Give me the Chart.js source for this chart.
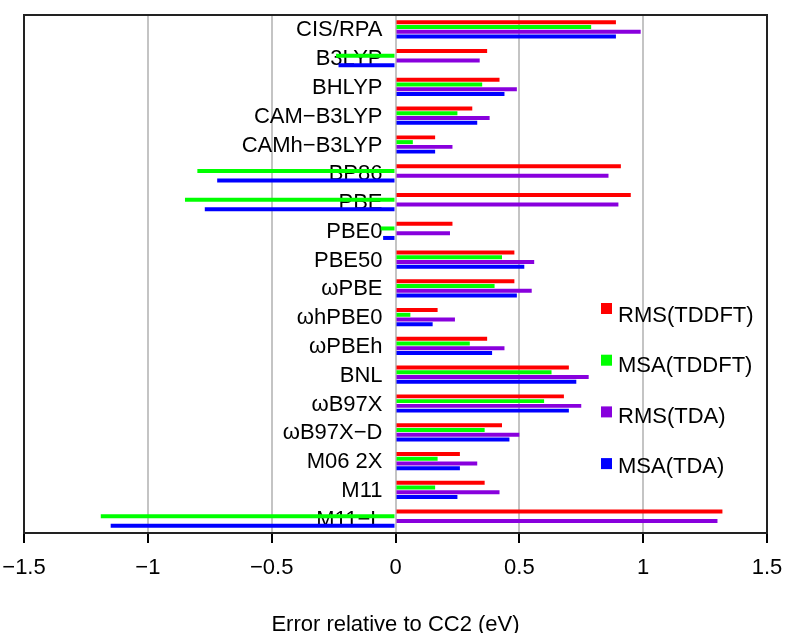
<!DOCTYPE html>
<html>
<head>
<meta charset="utf-8">
<script src="https://cdn.jsdelivr.net/npm/chart.js@4.4.1/dist/chart.umd.min.js"></script>
<style>
  html, body { margin: 0; padding: 0; background: #fff; }
  canvas { display: block; }
</style>
</head>
<body>
<canvas id="chart" width="791" height="633"></canvas>
<script>
const categories = ['CIS/RPA', 'B3LYP', 'BHLYP', 'CAM−B3LYP', 'CAMh−B3LYP', 'BP86', 'PBE', 'PBE0', 'PBE50',
  'ωPBE', 'ωhPBE0', 'ωPBEh', 'BNL', 'ωB97X', 'ωB97X−D', 'M06 2X', 'M11', 'M11−L'];

const rmsTddft = [0.89, 0.37, 0.42, 0.31, 0.16, 0.91, 0.95, 0.23, 0.48, 0.48, 0.17, 0.37, 0.70, 0.68, 0.43, 0.26, 0.36, 1.32];
const msaTddft = [0.79, -0.24, 0.35, 0.25, 0.07, -0.80, -0.85, -0.06, 0.43, 0.40, 0.06, 0.30, 0.63, 0.60, 0.36, 0.17, 0.16, -1.19];
const rmsTda = [0.99, 0.34, 0.49, 0.38, 0.23, 0.86, 0.90, 0.22, 0.56, 0.55, 0.24, 0.44, 0.78, 0.75, 0.50, 0.33, 0.42, 1.30];
const msaTda = [0.89, -0.23, 0.44, 0.33, 0.16, -0.72, -0.77, -0.05, 0.52, 0.49, 0.15, 0.39, 0.73, 0.70, 0.46, 0.26, 0.25, -1.15];

const xTicks = [-1.5, -1, -0.5, 0, 0.5, 1, 1.5];

const FONT = '"Liberation Sans", Arial, sans-serif';

function fmt(v) {
  return v < 0 ? '\u2212' + Math.abs(v) : String(v);
}

// category names inside the plot, legend and frame
const overlay = {
  id: 'overlay',
  beforeDatasetsDraw(chart) {
    const { ctx, scales: { x, y } } = chart;
    ctx.save();
    ctx.font = '22px ' + FONT;
    ctx.fillStyle = '#000';
    ctx.textAlign = 'right';
    ctx.textBaseline = 'middle';
    const lx = x.getPixelForValue(0) - 13;
    categories.forEach((c, i) => ctx.fillText(c, lx, y.getPixelForValue(i) + 1));
    ctx.restore();
  },
  afterDatasetsDraw(chart) {
    const { ctx, chartArea: a } = chart;
    ctx.save();
    ctx.strokeStyle = '#222';
    ctx.lineWidth = 2;
    ctx.strokeRect(a.left, a.top, a.right - a.left, a.bottom - a.top);

    ctx.font = '22px ' + FONT;
    ctx.textAlign = 'left';
    ctx.textBaseline = 'middle';
    chart.data.datasets.forEach((ds, i) => {
      ctx.fillStyle = ds.backgroundColor;
      ctx.fillRect(601, 303 + i * 51.7, 11, 11);
      ctx.fillStyle = '#000';
      ctx.fillText(ds.label, 618, 316 + i * 50.3);
    });
    ctx.restore();
  }
};

new Chart(document.getElementById('chart'), {
  type: 'bar',
  data: {
    labels: categories,
    datasets: [
      { label: 'RMS(TDDFT)', data: rmsTddft, backgroundColor: '#ff0000' },
      { label: 'MSA(TDDFT)', data: msaTddft, backgroundColor: '#00ff00' },
      { label: 'RMS(TDA)', data: rmsTda, backgroundColor: '#8800dd' },
      { label: 'MSA(TDA)', data: msaTda, backgroundColor: '#0000ff' }
    ]
  },
  options: {
    indexAxis: 'y',
    responsive: false,
    animation: false,
    datasets: { bar: { barPercentage: 0.84, categoryPercentage: 0.66 } },
    layout: { padding: { left: 24, right: 24, top: 15, bottom: 0 } },
    plugins: { legend: { display: false }, tooltip: { enabled: false } },
    scales: {
      y: { display: false },
      x: {
        min: -1.5,
        max: 1.5,
        afterBuildTicks: s => { s.ticks = xTicks.map(v => ({ value: v })); },
        afterFit: s => {
          s.height = 100;
          s.paddingLeft = 0;
          s.paddingRight = 0;
        },
        grid: {
          color: c => (c.tick && Math.abs(c.tick.value) < 1.4) ? '#c4c4c4' : 'rgba(0,0,0,0)',
          lineWidth: 2,
          tickColor: '#000',
          tickLength: 10,
          tickWidth: 2
        },
        border: { display: true, color: '#000', width: 2 },
        ticks: {
          color: '#000',
          padding: 12,
          maxRotation: 0,
          font: { family: FONT, size: 22 },
          callback: v => fmt(v)
        },
        title: {
          display: true,
          text: 'Error relative to CC2 (eV)',
          color: '#000',
          padding: 0,
          font: { family: FONT, size: 22, lineHeight: 0.7 }
        }
      }
    }
  },
  plugins: [overlay]
});
</script>
</body>
</html>
